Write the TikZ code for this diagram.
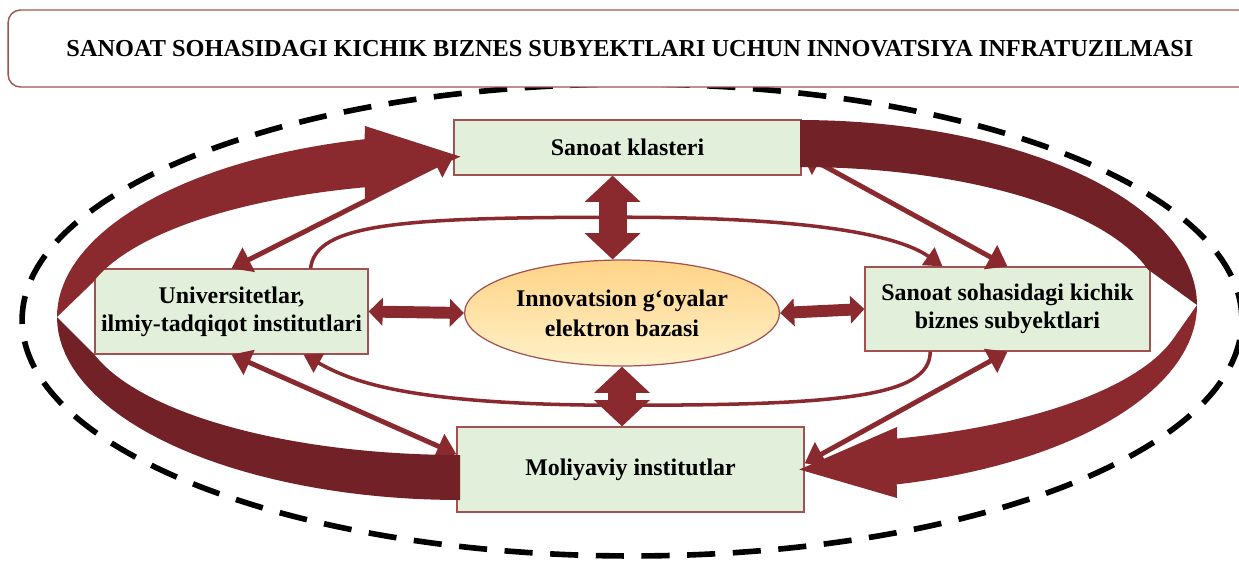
\documentclass[tikz,border=0pt]{standalone}
\usepackage{fontspec}
\setmainfont{Liberation Serif}
\usepackage{tikz}
\usetikzlibrary{shapes.geometric,arrows.meta,calc}
\usepackage{xcolor}
\definecolor{qizil}{RGB}{139,42,46}
\definecolor{toqqizil}{RGB}{114,34,38}
\definecolor{yashil}{RGB}{226,239,218}
\definecolor{hoshiya}{RGB}{160,82,82}
\definecolor{sariq1}{RGB}{255,211,135}
\definecolor{sariq2}{RGB}{255,241,200}

\begin{document}
\begin{tikzpicture}
		[   x=0.02cm,y=-0.02cm,
			box/.style={draw=hoshiya,line width=0.7pt,fill=yashil,inner sep=0pt,align=center,font=\bfseries\fontsize{13.6}{16}\selectfont},
		]
		\tikzset{link/.style={draw=qizil,line width=2.8pt,{Triangle[length=11pt,width=15pt]}-{Triangle[length=11pt,width=15pt]}}}
		\tikzset{hlink/.style={draw=qizil,line width=6.8pt,{Triangle[length=8pt,width=15.5pt]}-{Triangle[length=8pt,width=15.5pt]}}}
		\tikzset{vlink/.style={draw=qizil,line width=16pt,{Triangle[length=15pt,width=31pt]}-{Triangle[length=15pt,width=31pt]}}}
		\tikzset{curve/.style={draw=qizil,line width=2pt,-{Triangle[length=10pt,width=12pt]}}}
		\useasboundingbox (0,0) rectangle (1239,562);
		
		\node[draw,ellipse,line width=3.2pt,dash pattern=on 16pt off 10pt,minimum width=24.4cm,minimum height=9.44cm,inner sep=0pt] (chegara) at (632,320) {};
		\node[draw=hoshiya,line width=0.8pt,fill=white,rounded corners=7pt,minimum width=24.88cm,minimum height=1.54cm,inner sep=0pt,font=\bfseries\fontsize{13.85}{16}\selectfont] (sarlavha) at (630,48.5) {SANOAT SOHASIDAGI KICHIK BIZNES SUBYEKTLARI UCHUN INNOVATSIYA INFRATUZILMASI};
		
		\node[box,minimum width=6.94cm,minimum height=1.1cm] (klaster) at (627.5,147.5) {Sanoat klasteri};
		\node[box,minimum width=5.46cm,minimum height=1.7cm] (univ) at (231.5,311.5) {Universitetlar,\\ilmiy-tadqiqot institutlari};
		\node[box,minimum width=5.7cm,minimum height=1.68cm] (biznes) at (1007.5,309) {Sanoat sohasidagi kichik\\biznes subyektlari};
		\node[box,minimum width=6.94cm,minimum height=1.7cm] (moliya) at (630.5,469.5) {Moliyaviy institutlar};
		\node[ellipse,draw=hoshiya,line width=0.7pt,top color=sariq1,bottom color=sariq2,inner sep=0pt,minimum width=6.3cm,minimum height=2.12cm,align=center,font=\bfseries\fontsize{13.6}{17}\selectfont] (baza) at (622,313) {Innovatsion g‘oyalar\\elektron bazasi};
		
		\draw[curve] ([xshift=45pt]univ.north) .. controls +(5,-45) and +(-220,0) .. ([yshift=24pt]baza.north) .. controls +(220,0) and +(-35,-25) .. ([xshift=-37pt]biznes.north);
		\draw[curve] ([xshift=-44pt]biznes.south) .. controls +(0,45) and +(220,0) .. ([yshift=-22pt]baza.south) .. controls +(-220,0) and +(45,25) .. ([xshift=41pt]univ.south);
		
		\foreach \a/\b in {univ.north/klaster.183,univ.south/moliya.175,biznes.north/klaster.358,biznes.south/moliya.2}
		{
			\path[link] (\a) -- (\b);
		}
		
		\path[hlink] (univ.east) -- (baza.west);
		\path[hlink] (baza.east) -- (biznes.west);
		\path[vlink] (baza.100 |- klaster.south) -- (baza.100);
		\path[vlink] (baza.south) -- (baza.south |- moliya.north);
		
		\fill[toqqizil] plot[domain=90:180,samples=40] ({460+403*cos(\x)},{317+183*sin(\x)}) -- (93,353) -- plot[domain=165:90,samples=40] ({460+380*cos(\x)},{317+138*sin(\x)}) -- cycle;
		\fill[qizil] plot[domain=180:256.3,samples=40] ({460+403*cos(\x)},{317+183*sin(\x)}) -- (365,126) -- ([xshift=4pt]klaster.183) -- (365,199) -- plot[domain=255.5:195,samples=40] ({460+380*cos(\x)},{317+134*sin(\x)}) -- cycle;
		
		\fill[toqqizil] plot[domain=270:360,samples=40] ({800+397*cos(\x)},{305+185*sin(\x)}) -- plot[domain=345:270,samples=40] ({800+360*cos(\x)},{305+138*sin(\x)}) -- cycle;
		\fill[qizil] plot[domain=0:75.9,samples=40] ({800+397*cos(\x)},{305+185*sin(\x)}) -- (897,498) -- ([xshift=-3pt]moliya.east) -- (897,427) -- plot[domain=75.4:15,samples=40] ({800+385*cos(\x)},{305+138*sin(\x)}) -- cycle;
		
\end{tikzpicture}
\end{document}
